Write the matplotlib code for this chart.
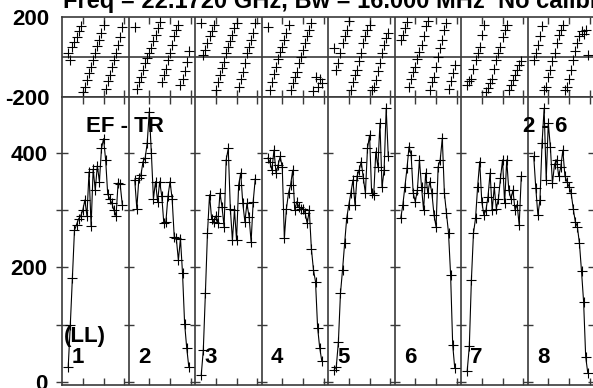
import matplotlib
matplotlib.use('Agg')
import matplotlib.pyplot as plt
import numpy as np

# ---------------- data ----------------
channels = list(range(3, 30))          # plotted channels in each IF (of 32)
n_chan = 32
if_names = ['1', '2', '3', '4', '5', '6', '7', '8']

amp_if1 = [27, 100, 182, 265, 275, 285, 290, 300, 318, 290, 367, 272, 372, 335, 378, 350, 408, 425, 388, 328, 320, 312, 300, 290, 348, 345, 310]
amp_if2 = [353, 303, 356, 362, 385, 391, 417, 472, 400, 320, 350, 315, 350, 325, 277, 280, 325, 350, 320, 254, 251, 213, 250, 190, 102, 60, 27]
amp_if3 = [12, 56, 155, 260, 327, 285, 280, 290, 277, 330, 306, 271, 388, 408, 303, 248, 300, 248, 344, 365, 312, 280, 312, 289, 245, 315, 355]
amp_if4 = [391, 385, 370, 405, 365, 379, 394, 375, 251, 303, 330, 344, 370, 300, 315, 306, 303, 303, 295, 277, 300, 233, 196, 175, 95, 60, 37]
amp_if5 = [21, 27, 70, 155, 196, 242, 286, 309, 330, 353, 309, 360, 370, 385, 356, 330, 408, 431, 330, 327, 402, 376, 452, 340, 370, 478, 394]
amp_if6 = [286, 309, 341, 373, 411, 397, 330, 315, 335, 388, 341, 300, 365, 330, 350, 330, 292, 271, 376, 388, 426, 330, 295, 260, 187, 65, 24]
amp_if7 = [20, 62, 178, 260, 286, 341, 385, 315, 292, 300, 324, 365, 300, 340, 303, 320, 356, 388, 312, 388, 335, 320, 335, 300, 310, 274, 359]
amp_if8 = [394, 338, 292, 318, 417, 478, 353, 452, 411, 347, 380, 388, 360, 375, 405, 360, 350, 341, 330, 303, 280, 271, 242, 193, 140, 44, 16]

phase_if1 = [20, -15, 50, 75, 100, 127, 152, -173, -148, -115, -80, -50, -15, 20, 55, 85, 120, 160, -157, -120, -90, -50, -15, 20, 60, 100, 150]
phase_if2 = [150, -157, -123, -98, -65, -32, -5, 18, 43, 77, 110, 143, 175, -123, -90, -60, -15, 18, 60, 102, 135, 160, -140, -110, -70, -23, 30]
phase_if3 = [168, 10, 35, 68, 102, 127, 160, -165, -123, -90, -57, -23, 18, 52, 77, 110, 143, 168, -148, -107, -73, -32, 18, 52, 85, 118, 168]
phase_if4 = [150, -165, -123, -82, -48, -10, 27, 52, 85, 118, 160, -165, -130, -98, -73, -32, 0, 35, 68, 102, 135, 168, -170, -98, -148, -110, -130]
phase_if5 = [43, -65, -32, 18, 68, 102, 135, 177, -165, -123, -90, -65, -20, 18, 68, 102, 135, 160, -165, -148, -115, -70, -30, 20, 60, 93, 118]
phase_if6 = [85, 110, 145, 175, -150, -107, -75, -48, -10, 25, 60, 102, 152, 180, -165, -125, -98, -48, 2, 43, 85, 135, 168, -160, -120, -80, -40]
phase_if7 = [-140, -120, -107, -60, -15, 20, 52, 110, 160, -175, -155, -130, -107, -60, -15, 20, 52, 100, 135, 160, -165, -140, -115, -90, -65, -40, -20]
phase_if8 = [-15, 18, 60, 102, 152, -165, -148, -100, -65, -20, 18, 68, 110, 135, 160, -165, -148, -110, -65, -15, 30, 68, 102, 127, 115, 135, 10]

amp_ticks = [0, 100, 200, 300, 400]
amp_ticklabels = ['0', '', '200', '', '400']
phase_ticks = [-200, 200]
phase_ticklabels = ['-200', '200']
chan_ticks = [10, 20, 30]

title = "Freq = 22.1720 GHz, Bw = 16.000 MHz  No calibration"
baseline_label = "EF - TR"
time_label = "2 - 6"
pol_label = "(LL)"

# ---------------- style ----------------
plt.rcParams['font.family'] = ['Liberation Sans', 'DejaVu Sans']
plt.rcParams['font.weight'] = 'bold'
FS = 16
AXC = '#3a3a3a'

W, H = 593, 388
fig = plt.figure(figsize=(W / 100, H / 100), dpi=100)


def frac(x0, y0, x1, y1):
    return [x0 / W, 1 - y1 / H, (x1 - x0) / W, (y1 - y0) / H]


ax_ph = fig.add_axes(frac(62, 16.7, 594, 97.3))
ax_am = fig.add_axes(frac(62, 97.3, 594, 384.5))

amps = [amp_if1, amp_if2, amp_if3, amp_if4, amp_if5, amp_if6, amp_if7, amp_if8]
phases = [phase_if1, phase_if2, phase_if3, phase_if4, phase_if5, phase_if6, phase_if7, phase_if8]

n_if = len(if_names)
xmax = n_if * n_chan
boundaries = [k * n_chan for k in range(1, n_if)]
xt = [k * n_chan + t for k in range(n_if) for t in chan_ticks]

for ax in (ax_ph, ax_am):
    ax.set_xlim(0, xmax)
    for s in ax.spines.values():
        s.set_color(AXC)
        s.set_linewidth(1.2)
    for b in boundaries:
        ax.axvline(b, color=AXC, lw=1.2, zorder=1)
    ax.set_xticks(xt)
    ax.tick_params(axis='x', direction='in', length=5, width=1, color=AXC,
                   top=True, bottom=True, labelbottom=False)
    ax.tick_params(axis='y', direction='inout', length=9, width=1, color=AXC,
                   left=True, right=True, labelsize=FS, pad=6)

# phase panel
ax_ph.set_ylim(-200, 200)
ax_ph.axhline(0, color=AXC, lw=1.2, zorder=1)
for k in range(n_if):
    xs = [k * n_chan + c for c in channels]
    ax_ph.plot(xs, phases[k], ls='none', marker='+', ms=7.5, mew=0.8,
               color='black', zorder=3)
ax_ph.set_yticks(phase_ticks)
ax_ph.set_yticklabels(phase_ticklabels, fontweight='bold')
ax_ph.tick_params(axis='y', length=0, pad=9)

# amplitude panel
ax_am.set_ylim(-4.4, 497.3)
for k in range(n_if):
    xs = [k * n_chan + c for c in channels]
    ax_am.plot(xs, amps[k], color='black', lw=0.8, marker='+', ms=7.5, mew=0.8, zorder=3)
ax_am.set_yticks(amp_ticks)
ax_am.set_yticklabels(amp_ticklabels, fontweight='bold')
for b in boundaries:
    ax_am.plot([b] * len(amp_ticks), amp_ticks, ls='none', marker='_', ms=7, mew=1,
               color=AXC, zorder=2)

ax_am.text(11.5, 437, baseline_label, fontsize=FS, fontweight='bold', va='baseline', ha='left')
ax_am.text(221.8, 437, time_label, fontsize=FS, fontweight='bold', va='baseline', ha='left')
ax_am.text(1.0, 70, pol_label, fontsize=FS, fontweight='bold', va='baseline', ha='left')
for k, name in enumerate(if_names):
    ax_am.text(k * n_chan + 4.5, 32.7, name, fontsize=FS, fontweight='bold',
               va='baseline', ha='left')

fig.text(63 / W, 1 - 8 / H, title, fontsize=17, fontweight='bold', va='baseline', ha='left')

fig.savefig('out.png', dpi=100)
